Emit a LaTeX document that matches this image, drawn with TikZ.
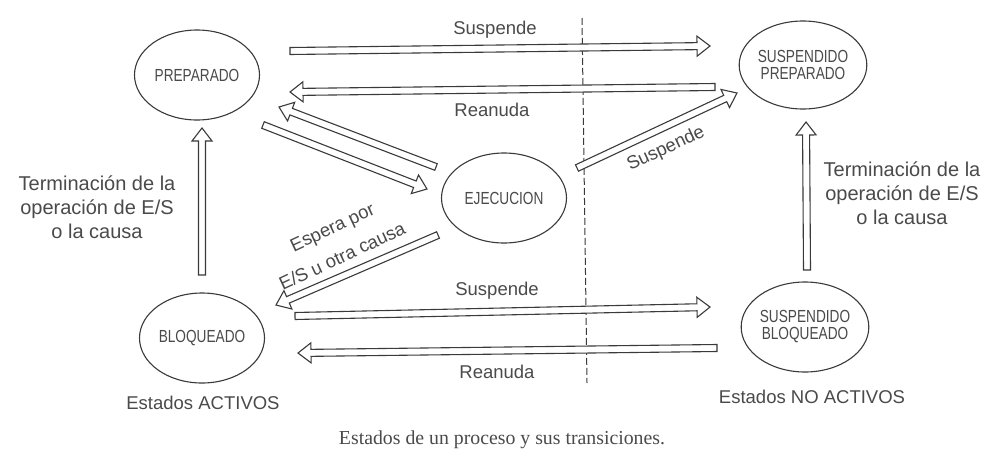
\documentclass[tikz,border=0pt]{standalone}
\usepackage{fontspec}
\setmainfont{Liberation Serif}
\newfontfamily\labfont{Liberation Sans}
\newfontfamily\condfont[FakeStretch=0.78]{Liberation Sans}
\usetikzlibrary{calc,shapes.geometric}
\definecolor{ink}{HTML}{3A3A3A}
\definecolor{txt}{HTML}{4A4A4A}
\tikzset{
  state/.style={ellipse, draw=ink, line width=1.1pt, minimum width=125pt, minimum height=90pt, inner sep=0pt, align=center, text=txt, font=\condfont\fontsize{17.5}{20}\selectfont},
  lbl/.style={text=txt, font=\labfont\fontsize{18.5}{24}\selectfont, align=center, inner sep=0pt},
  biglbl/.style={lbl, font=\labfont\fontsize{20}{24}\selectfont},
  harrowline/.style={draw=ink, line width=1.1pt, line join=miter, fill=white},
  divider/.style={draw=ink, line width=1pt, dash pattern=on 7pt off 3pt},
}
\newcommand\harrow[2]{%
  \coordinate (hH) at ($(#2)!13pt!(#1)$);
  \path[harrowline] ($(#1)!3.5pt!90:(#2)$) -- ($(hH)!3.5pt!90:(#2)$) -- ($(hH)!10pt!90:(#2)$) -- (#2) -- ($(hH)!10pt!-90:(#2)$) -- ($(hH)!3.5pt!-90:(#2)$) -- ($(#1)!3.5pt!-90:(#2)$) -- cycle;}
\begin{document}
\begin{tikzpicture}[x=1pt,y=-1pt]
\useasboundingbox[fill=white] (0,0) rectangle (1000,471);
% divider
\coordinate (dtop) at (582,18);
\coordinate (dbot) at (587,383);
\draw[divider] (dtop) -- (dbot);
% states
\node[state] (prep) at (197,75) {PREPARADO};
\node[state] (bloq) at (202,338) {BLOQUEADO};
\node[state] (ejec) at (504,198) {EJECUCION};
\node[state, minimum width=123pt, minimum height=88pt] (sprep) at (803,65) {SUSPENDIDO\\[-3pt]PREPARADO};
\node[state] (sbloq) at (805,327) {SUSPENDIDO\\[-3pt]BLOQUEADO};
% arrow end points
\coordinate (a1s) at (290,51);  \coordinate (a1e) at (710,46);
\coordinate (a2s) at (715,87);  \coordinate (a2e) at (290,92);
\coordinate (a3s) at (436,167); \coordinate (a3e) at (279,107);
\coordinate (a4s) at (263,125); \coordinate (a4e) at (427,189);
\coordinate (a5s) at (438,235); \coordinate (a5e) at (276,305);
\coordinate (a6s) at (577,168); \coordinate (a6e) at (737,93);
\coordinate (a7s) at (295,316); \coordinate (a7e) at (710,307);
\coordinate (a8s) at (717,348); \coordinate (a8e) at (298,353);
\coordinate (a9s) at (202,275); \coordinate (a9e) at (202,128);
\coordinate (a10s) at (807,270); \coordinate (a10e) at (806,122);
\harrow{a1s}{a1e}
\harrow{a2s}{a2e}
\harrow{a3s}{a3e}
\harrow{a4s}{a4e}
\harrow{a5s}{a5e}
\harrow{a6s}{a6e}
\harrow{a7s}{a7e}
\harrow{a8s}{a8e}
\harrow{a9s}{a9e}
\harrow{a10s}{a10e}
% labels
\node[lbl] (l1) at (495,30) {Suspende};
\node[lbl] (l2) at (492,110) {Reanuda};
\node[lbl] (l3) at (497,291) {Suspende};
\node[lbl] (l4) at (497,372) {Reanuda};
\node[lbl, rotate=25] (l5) at (666,149) {Suspende};
\node[lbl, rotate=25] (l6a) at (333,229) {Espera por};
\node[lbl, rotate=25] (l6b) at (342,256) {E/S u otra causa};
\node[biglbl] (l7) at (97,207) {Terminación de la\\operación de E/S\\o la causa};
\node[biglbl] (l8) at (902,193) {Terminación de la\\operación de E/S\\o la causa};
\node[lbl] (l9) at (203,403) {Estados ACTIVOS};
\node[lbl] (l10) at (812,397) {Estados NO ACTIVOS};
\node[text=txt, font=\fontsize{19.8}{22}\selectfont, inner sep=0pt] (cap) at (502,440) {Estados de un proceso y sus transiciones.};
\end{tikzpicture}
\end{document}
